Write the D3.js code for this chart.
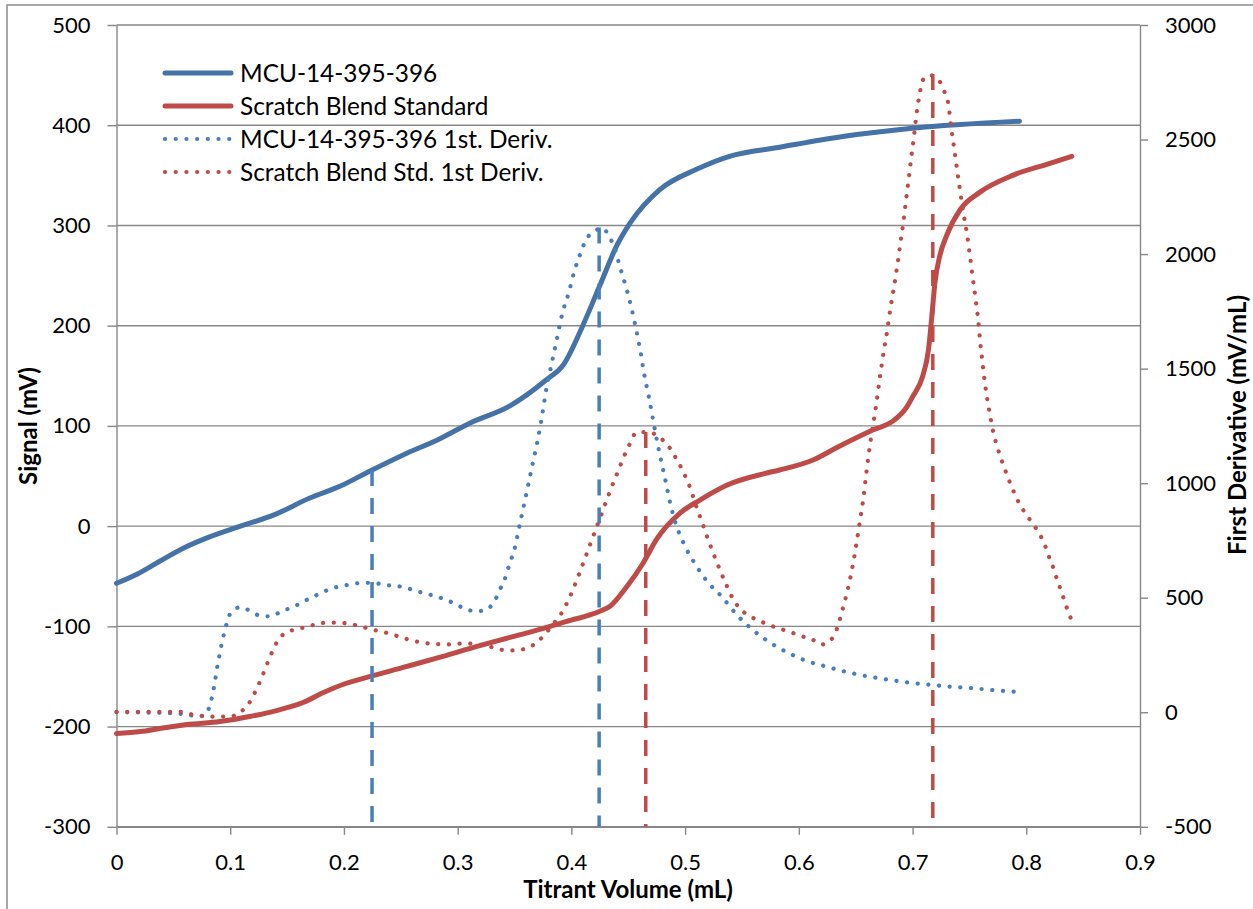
<!DOCTYPE html>
<html>
<head>
<meta charset="utf-8">
<script src="https://cdn.jsdelivr.net/npm/d3@7"></script>
<style>
  body { margin: 0; background: #fff; }
  text { font-family: Lato, "Open Sans", sans-serif; fill: #000; }
</style>
</head>
<body>
<div id="chart"></div>
<script>
const width = 1253;
const height = 909;

// volumes (mL) and signal (mV)
const mcuSignal = [[0,-57],[0.018,-48],[0.038,-35],[0.057,-23],[0.079,-12],[0.109,0],[0.138,11],[0.170,28],
  [0.197,40],[0.223,55],[0.252,71],[0.284,87],[0.311,103],[0.346,120],[0.378,146],[0.393,161],[0.410,200],
  [0.425,240],[0.440,280],[0.452,303],[0.478,336],[0.510,356],[0.539,369],[0.583,378],[0.64,389],[0.70,397],[0.794,404]];

const scratchSignal = [[0,-207],[0.021,-205],[0.038,-202],[0.062,-198],[0.091,-195],[0.117,-190],[0.144,-183],
  [0.164,-176],[0.182,-166],[0.199,-158],[0.223,-150],[0.252,-141],[0.287,-130],[0.317,-120],[0.346,-111],
  [0.366,-105],[0.396,-95],[0.425,-85],[0.434,-80],[0.449,-60],[0.463,-37],[0.475,-13],[0.4955,13],[0.513,26],
  [0.537,41],[0.572,53],[0.583,56],[0.6125,66],[0.636,80],[0.665,96],[0.683,105],[0.695,119],[0.700,129],
  [0.709,150],[0.714,176],[0.717,210],[0.7197,243],[0.724,270],[0.730,290],[0.742,316],[0.759,333],
  [0.788,350],[0.818,361],[0.840,369]];

// first derivatives (mV/mL), right axis
const mcuDeriv = [[0,0],[0.05,-4],[0.066,-14],[0.076,-17],[0.081,14],[0.0837,61],[0.0857,109],[0.0887,200],
  [0.0925,298],[0.097,388],[0.1004,434],[0.1086,458],[0.117,444],[0.126,422],[0.135,419],[0.144,437],
  [0.153,456],[0.162,476],[0.170,498],[0.179,518],[0.188,539],[0.197,550],[0.207,559],[0.216,565],
  [0.226,565],[0.235,556],[0.245,552],[0.254,544],[0.263,530],[0.273,517],[0.282,504],[0.291,489],
  [0.300,467],[0.308,448],[0.318,441],[0.327,454],[0.333,490],[0.337,534],[0.341,575],[0.344,622],
  [0.347,667],[0.350,713],[0.354,805],[0.358,898],[0.362,991],[0.366,1086],[0.370,1179],[0.3735,1273],
  [0.378,1412],[0.382,1507],[0.386,1600],[0.392,1740],[0.3977,1832],[0.4026,1925],[0.409,2016],
  [0.4126,2061],[0.419,2094],[0.4275,2114],[0.4334,2074],[0.4377,2031],[0.4427,1944],[0.4486,1846],
  [0.4533,1755],[0.4574,1660],[0.461,1568],[0.4641,1474],[0.468,1379],[0.4715,1286],[0.475,1191],
  [0.479,1096],[0.483,1005],[0.487,910],[0.492,820],[0.4993,731],[0.5087,648],[0.5195,571],[0.5327,502],
  [0.5454,426],[0.5594,360],[0.5747,304],[0.5916,257],[0.609,220],[0.6186,207],[0.637,182],[0.656,161],
  [0.675,145],[0.6943,131],[0.713,121],[0.7323,112],[0.751,106],[0.7705,97],[0.790,90]];

const scratchDeriv = [[0,2],[0.056,2],[0.067,-10],[0.0764,-16],[0.0858,-19],[0.0954,-19],[0.105,-13],
  [0.1124,16],[0.1183,53],[0.1227,97],[0.1268,141],[0.1303,184],[0.1338,228],[0.1376,271],[0.142,314],
  [0.1488,347],[0.1578,362],[0.1672,372],[0.1766,386],[0.186,391],[0.1954,391],[0.2047,386],[0.2141,376],
  [0.2238,362],[0.2332,352],[0.2425,340],[0.2517,325],[0.261,312],[0.2704,303],[0.280,298],[0.2897,296],
  [0.2992,299],[0.3085,300],[0.318,296],[0.3278,287],[0.337,274],[0.3469,270],[0.3563,274],[0.365,289],
  [0.3724,318],[0.379,354],[0.385,391],[0.3906,427],[0.3994,512],[0.4067,602],[0.4135,692],[0.4201,781],
  [0.427,871],[0.4334,958],[0.4407,1048],[0.448,1137],[0.4521,1178],[0.4566,1219],[0.4656,1223],
  [0.4744,1212],[0.4823,1178],[0.4882,1142],[0.4926,1103],[0.4975,1059],[0.5014,1016],[0.505,972],
  [0.5078,928],[0.5146,833],[0.5208,746],[0.5278,656],[0.5351,569],[0.5433,485],[0.5498,445],[0.557,419],
  [0.5659,398],[0.5747,379],[0.584,364],[0.5931,349],[0.6025,332],[0.6116,318],[0.620,296],[0.628,315],
  [0.6327,354],[0.6383,446],[0.643,536],[0.647,630],[0.6503,725],[0.6532,819],[0.6562,914],[0.6585,1008],
  [0.6608,1103],[0.6635,1197],[0.6679,1338],[0.6705,1433],[0.6746,1573],[0.6778,1668],[0.6805,1762],
  [0.6837,1857],[0.6866,1951],[0.6893,2047],[0.6919,2139],[0.6942,2233],[0.6966,2329],[0.6989,2424],
  [0.7013,2517],[0.7036,2614],[0.7065,2706],[0.7089,2759],[0.7154,2781],[0.7213,2766],[0.725,2745],
  [0.7286,2701],[0.7315,2654],[0.7339,2558],[0.7365,2464],[0.7391,2371],[0.7418,2276],[0.7447,2180],
  [0.7479,2087],[0.7505,1992],[0.7529,1898],[0.7555,1803],[0.7578,1708],[0.7596,1612],[0.7617,1519],
  [0.764,1423],[0.767,1330],[0.7705,1234],[0.7754,1144],[0.7816,1055],[0.7886,967],[0.7925,924],
  [0.7974,882],[0.8027,844],[0.8083,805],[0.8132,764],[0.8171,720],[0.8203,674],[0.8238,630],[0.8268,584],
  [0.83,539],[0.8332,492],[0.8361,449],[0.8396,405]];

// equivalence point markers: volume, top (mV)
const markerVol = [0.2247, 0.4244, 0.4654, 0.7178];
const markerTop = [56, 298, 94, 451];
const markerSeries = ['mcu', 'mcu', 'scratch', 'scratch'];

const xTicks = [0, 0.1, 0.2, 0.3, 0.4, 0.5, 0.6, 0.7, 0.8, 0.9];
const leftTicks = [-300, -200, -100, 0, 100, 200, 300, 400, 500];
const rightTicks = [-500, 0, 500, 1000, 1500, 2000, 2500, 3000];

const legendNames = ['MCU-14-395-396', 'Scratch Blend Standard', 'MCU-14-395-396 1st. Deriv.', 'Scratch Blend Std. 1st Deriv.'];

const blue = '#4A7EBB';
const blueSolid = '#4572A7';
const red = '#BE4B48';
const gridColor = '#878787';
const dots = '0.1 10.6';

const svg = d3.select('#chart')
  .append('svg')
  .attr('width', width)
  .attr('height', height);

// outer chart frame
svg.append('rect')
  .attr('x', 7).attr('y', 5)
  .attr('width', 1260).attr('height', 920)
  .attr('fill', 'none')
  .attr('stroke', '#8c8c8c')
  .attr('stroke-width', 1.5);

const x = d3.scaleLinear().domain([0, 0.9]).range([116.5, 1140]);
const yL = d3.scaleLinear().domain([-300, 500]).range([826.8, 25]);
const yR = d3.scaleLinear().domain([-500, 3000]).range([826.8, 25]);

// horizontal gridlines
svg.selectAll('.grid')
  .data(leftTicks)
  .enter()
  .append('line')
  .attr('class', 'grid')
  .attr('x1', x(0)).attr('x2', x(0.9))
  .attr('y1', d => yL(d)).attr('y2', d => yL(d))
  .attr('stroke', gridColor)
  .attr('stroke-width', 1.4);

function styleAxis(g) {
  g.select('.domain').attr('stroke', gridColor).attr('stroke-width', 1.4);
  g.selectAll('.tick line').attr('stroke', gridColor).attr('stroke-width', 1.4);
  g.selectAll('.tick text').style('font-size', '22px').attr('fill', '#000');
}

svg.append('g')
  .attr('transform', `translate(${x(0)},0)`)
  .call(d3.axisLeft(yL).tickValues(leftTicks).tickSize(9).tickSizeOuter(0).tickPadding(17).tickFormat(d => String(d)))
  .call(styleAxis);

svg.append('g')
  .attr('transform', `translate(${x(0.9)},0)`)
  .call(d3.axisRight(yR).tickValues(rightTicks).tickSize(8).tickSizeOuter(0).tickPadding(17).tickFormat(d => String(d)))
  .call(styleAxis);

svg.append('g')
  .attr('transform', `translate(0,${yL(-300)})`)
  .call(d3.axisBottom(x).tickValues(xTicks).tickSize(8).tickSizeOuter(0).tickPadding(20).tickFormat(d => d === 0 ? '0' : d3.format('.1f')(d)))
  .call(styleAxis);

// axis titles
svg.append('text')
  .attr('transform', 'translate(37,426) rotate(-90)')
  .attr('text-anchor', 'middle')
  .style('font-size', '24px')
  .style('font-weight', 'bold')
  .text('Signal (mV)');

svg.append('text')
  .attr('transform', 'translate(1246,425) rotate(-90)')
  .attr('text-anchor', 'middle')
  .style('font-size', '24px')
  .style('font-weight', 'bold')
  .text('First Derivative (mV/mL)');

svg.append('text')
  .attr('x', 628).attr('y', 898)
  .attr('text-anchor', 'middle')
  .style('font-size', '24px')
  .style('font-weight', 'bold')
  .text('Titrant Volume (mL)');

const lineL = d3.line().x(d => x(d[0])).y(d => yL(d[1])).curve(d3.curveMonotoneX);
const lineR = d3.line().x(d => x(d[0])).y(d => yR(d[1])).curve(d3.curveMonotoneX);

const series = [
  { data: mcuSignal, line: lineL, color: blueSolid, dotted: false },
  { data: scratchSignal, line: lineL, color: red, dotted: false },
  { data: mcuDeriv, line: lineR, color: blue, dotted: true },
  { data: scratchDeriv, line: lineR, color: red, dotted: true }
];

svg.selectAll('.series')
  .data(series)
  .enter()
  .append('path')
  .attr('class', 'series')
  .attr('d', d => d.line(d.data))
  .attr('fill', 'none')
  .attr('stroke', d => d.color)
  .attr('stroke-width', d => d.dotted ? 4.2 : 5)
  .attr('stroke-linecap', 'round')
  .attr('stroke-linejoin', 'round')
  .attr('stroke-dasharray', d => d.dotted ? dots : null);

// vertical dashed markers
svg.selectAll('.marker')
  .data(markerVol)
  .enter()
  .append('line')
  .attr('class', 'marker')
  .attr('x1', d => x(d)).attr('x2', d => x(d))
  .attr('y1', (d, i) => yL(markerTop[i]))
  .attr('y2', yL(-300))
  .attr('stroke', (d, i) => markerSeries[i] === 'mcu' ? blue : red)
  .attr('stroke-width', 3.5)
  .attr('stroke-dasharray', '16 12');

// legend
const legend = svg.selectAll('.legend')
  .data(legendNames)
  .enter()
  .append('g')
  .attr('class', 'legend')
  .attr('transform', (d, i) => `translate(0,${73 + i * 33})`);

legend.append('line')
  .attr('x1', 165).attr('x2', 231)
  .attr('stroke', (d, i) => i === 0 ? blueSolid : (i === 2 ? blue : red))
  .attr('stroke-width', (d, i) => i < 2 ? 5 : 4.2)
  .attr('stroke-linecap', 'round')
  .attr('stroke-dasharray', (d, i) => i < 2 ? null : dots);

legend.append('text')
  .attr('x', 240)
  .attr('dy', '0.36em')
  .style('font-size', '24.4px')
  .text(d => d);
</script>
</body>
</html>
